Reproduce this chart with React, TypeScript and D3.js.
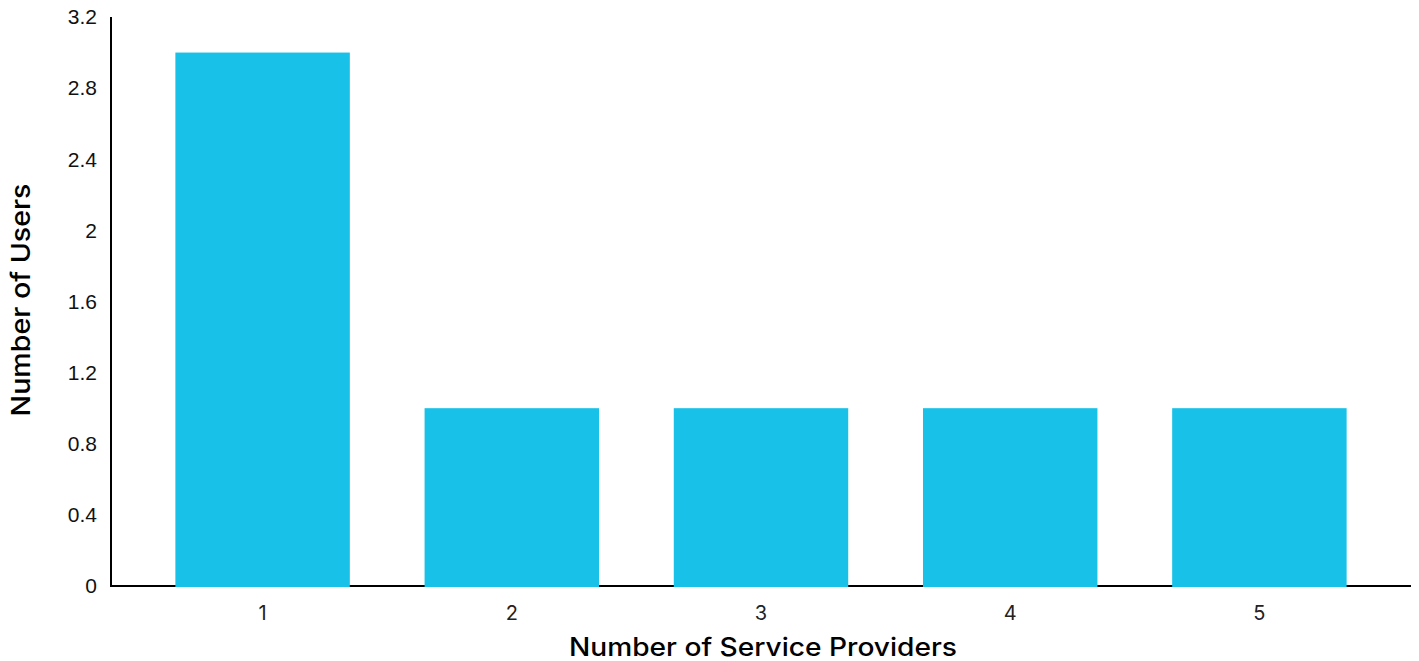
import * as d3 from "d3";

const categories = ["1", "2", "3", "4", "5"];
const users = [3, 1, 1, 1, 1];
const yTicks = [0, 0.4, 0.8, 1.2, 1.6, 2, 2.4, 2.8, 3.2];

const WIDTH = 1419;
const HEIGHT = 661;
const AXIS_LEFT = 111;
const AXIS_RIGHT = 1411;
const AXIS_TOP = 17;
const AXIS_BOTTOM = 586;
const BAR_COLOR = "#17c1e7";

export default function App() {
  const x = d3.scaleBand<string>().domain(categories).range([138, 1384]).paddingInner(0.3).paddingOuter(0.15);
  const y = d3.scaleLinear().domain([0, 3.2]).range([AXIS_BOTTOM, AXIS_TOP]);

  return (
    <svg
      width={WIDTH}
      height={HEIGHT}
      style={{ position: "absolute", left: 0, top: 0, background: "#fff" }}
    >
      <line x1={AXIS_LEFT} x2={AXIS_RIGHT} y1={AXIS_BOTTOM} y2={AXIS_BOTTOM} stroke="#000" strokeWidth={2} />
      <line x1={AXIS_LEFT} x2={AXIS_LEFT} y1={AXIS_TOP} y2={AXIS_BOTTOM + 1} stroke="#000" strokeWidth={2} />
      {categories.map((c, i) => (
        <rect
          key={c}
          x={x(c)}
          y={y(users[i])}
          width={x.bandwidth()}
          height={y(0) - y(users[i]) + 1}
          fill={BAR_COLOR}
        />
      ))}
      {yTicks.map((t) => (
        <text
          key={t}
          x={97}
          y={y(t)}
          dy="0.35em"
          textAnchor="end"
          fontFamily="'Liberation Sans', Arial, sans-serif"
          fontSize={21}
          fill="#111"
        >
          {String(t)}
        </text>
      ))}
      {categories.map((c) => (
        <text
          key={c}
          x={(x(c) ?? 0) + x.bandwidth() / 2}
          y={620}
          textAnchor="middle"
          fontFamily="Inter, 'Noto Sans', sans-serif"
          fontSize={20}
          fill="#222"
        >
          {c}
        </text>
      ))}
      <text
        x={763}
        y={656}
        textAnchor="middle"
        fontFamily="Inter, 'Noto Sans', sans-serif"
        fontSize={25}
        fontWeight={500}
        fill="#000"
        textLength={388}
        lengthAdjust="spacingAndGlyphs"
      >
        Number of Service Providers
      </text>
      <text
        transform={`translate(30, 300) rotate(-90)`}
        textAnchor="middle"
        fontFamily="Inter, 'Noto Sans', sans-serif"
        fontSize={26}
        fontWeight={500}
        fill="#000"
        textLength={233}
        lengthAdjust="spacingAndGlyphs"
      >
        Number of Users
      </text>
    </svg>
  );
}
